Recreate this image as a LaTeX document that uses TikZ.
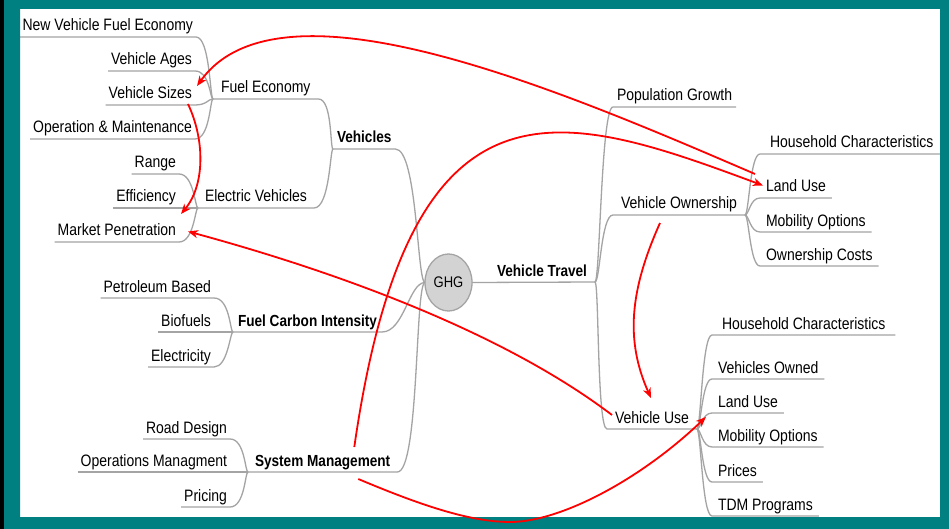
\documentclass[tikz,border=0pt]{standalone}
\usepackage{fontspec}
\setmainfont{Liberation Sans}
\usepackage{graphicx}
\usetikzlibrary{shapes.geometric,arrows.meta}
\definecolor{frame}{HTML}{008080}
\definecolor{lg}{HTML}{A4A4A4}
\definecolor{ghgf}{HTML}{D3D3D3}
\newcommand\vstr[1]{\scalebox{1}[1.18]{#1}}
\begin{document}
\begin{tikzpicture}[x=1pt,y=-1pt,
  base/.style={outer sep=0pt, inner ysep=2.5pt, text height=12.5pt, text depth=3.5pt, font=\fontsize{14}{16}\selectfont},
  lf/.style={base, anchor=south east, inner xsep=3pt},
  lp/.style={base, anchor=south west},
  rl/.style={base, anchor=south west, inner xsep=6pt},
  bd/.style={font=\fontsize{13.6}{16}\selectfont\bfseries},
  br/.style={draw=lg, line width=1.3pt},
  ar/.style={draw=red, line width=1.8pt, -{Stealth[length=10pt,width=8pt,inset=3pt]}},
]
\useasboundingbox (0,0) rectangle (949,529);
\fill[frame] (0,0) rectangle (949,529);
\fill[black] (0,0) rectangle (4,529);
\fill[white] (20,9) rectangle (940,517);

% ---- left leaves
\node[lf] (nvfe) at (196,37) {\vstr{New Vehicle Fuel Economy}};
\node[lf] (vages) at (195,71) {\vstr{Vehicle Ages}};
\node[lf] (vsizes) at (195,105) {\vstr{Vehicle Sizes}};
\node[lf] (om) at (195,139) {\vstr{Operation \& Maintenance}};
\node[lf] (range) at (179,174) {\vstr{Range}};
\node[lf] (eff) at (179,208) {\vstr{Efficiency}};
\node[lf] (mpen) at (179,242) {\vstr{Market Penetration}};
\node[lf] (petro) at (214,298) {\vstr{Petroleum Based}};
\node[lf] (bio) at (214,332) {\vstr{Biofuels}};
\node[lf] (elec) at (214,367) {\vstr{Electricity}};
\node[lf] (road) at (230,439) {\vstr{Road Design}};
\node[lf] (ops) at (230,472) {\vstr{Operations Managment}};
\node[lf] (pricing) at (230,507) {\vstr{Pricing}};

% ---- left parents
\node[lp, inner xsep=8pt] (fe) at (213,99) {\vstr{Fuel Economy}};
\node[lp, inner xsep=7pt] (ev) at (198,208) {\vstr{Electric Vehicles}};
\node[lp, bd, inner xsep=4pt] (veh) at (333,149) {\vstr{Vehicles}};
\node[lp, bd, inner xsep=5pt] (fci) at (233,332) {\vstr{Fuel Carbon Intensity}};
\node[lp, bd, inner xsep=7pt] (sm) at (248,472) {\vstr{System Management}};

% ---- centre
\node[ellipse, draw=lg, line width=1.3pt, fill=ghgf, minimum width=47pt, minimum height=57pt,
      inner sep=0pt, outer sep=0pt, font=\fontsize{13}{15}\selectfont] (ghg) at (448.5,282.5) {\vstr{GHG}};

% ---- right side
\node[base, bd, anchor=south east, inner xsep=8pt] (vt) at (595,282) {\vstr{Vehicle Travel}};
\node[base, anchor=south west, inner xsep=4pt] (pg) at (613,107) {\vstr{Population Growth}};
\node[base, anchor=south west, inner xsep=8pt] (vo) at (613,215) {\vstr{Vehicle Ownership}};
\node[base, anchor=south west, inner xsep=8pt] (vu) at (607,429) {\vstr{Vehicle Use}};

\node[rl, inner xsep=10pt] (hc1) at (760,154) {\vstr{Household Characteristics}};
\node[rl] (lu1) at (760,198) {\vstr{Land Use}};
\node[rl] (mo1) at (760,232) {\vstr{Mobility Options}};
\node[rl] (oc) at (760,266) {\vstr{Ownership Costs}};

\node[rl, inner xsep=10pt] (hc2) at (712,335) {\vstr{Household Characteristics}};
\node[rl] (vown) at (712,379) {\vstr{Vehicles Owned}};
\node[rl] (lu2) at (712,413) {\vstr{Land Use}};
\node[rl] (mo2) at (712,447) {\vstr{Mobility Options}};
\node[rl] (prices) at (712,482) {\vstr{Prices}};
\node[rl] (tdm) at (712,516) {\vstr{TDM Programs}};

% ---- gray branches, left
\draw[br] (nvfe.south west) -- (nvfe.south east) .. controls +(14,0) and +(-3,0) .. (fe.south west);
\draw[br] (vages.south west) -- (vages.south east) .. controls +(15,0) and +(-3,0) .. (fe.south west);
\draw[br] (vsizes.south west) -- (vsizes.south east) .. controls +(12,0) and +(-5,0) .. (fe.south west);
\draw[br] (om.south west) -- (om.south east) .. controls +(15,0) and +(-3,0) .. (fe.south west);
\draw[br] (fe.south west) -- (fe.south east) .. controls +(14,0) and +(-3,0) .. (veh.south west);

\draw[br] (range.south west) -- (range.south east) .. controls +(15,0) and +(-3,0) .. (ev.south west);
\draw[br] (eff.south west) -- (eff.south east) -- (ev.south west);
\draw[br] (mpen.south west) -- (mpen.south east) .. controls +(15,0) and +(-3,0) .. (ev.south west);
\draw[br] (ev.south west) -- (ev.south east) .. controls +(16,0) and +(-3,0) .. (veh.south west);

\draw[br] (veh.south west) -- (veh.south east) .. controls +(22,0) and +(-8,0) .. (ghg.west);

\draw[br] (petro.south west) -- (petro.south east) .. controls +(16,0) and +(-3,0) .. (fci.south west);
\draw[br] (bio.south west) -- (bio.south east) -- (fci.south west);
\draw[br] (elec.south west) -- (elec.south east) .. controls +(14,0) and +(-3,0) .. (fci.south west);
\draw[br] (fci.south west) -- (fci.south east) .. controls +(22,0) and +(-16,0) .. (ghg.west);

\draw[br] (road.south west) -- (road.south east) .. controls +(15,0) and +(-3,0) .. (sm.south west);
\draw[br] (ops.south west) -- (ops.south east) -- (sm.south west);
\draw[br] (pricing.south west) -- (pricing.south east) .. controls +(15,0) and +(-3,0) .. (sm.south west);
\draw[br] (sm.south west) -- (sm.south east) .. controls +(22,0) and +(-10,0) .. (ghg.west);

% ---- gray branches, right
\draw[br] (ghg.east) -- (vt.south east);
\draw[br] (vt.south east) .. controls +(5,0) and +(-12,0) .. (pg.south west) -- (pg.south east);
\draw[br] (vt.south east) .. controls +(5,0) and +(-12,0) .. (vo.south west) -- (vo.south east);
\draw[br] (vt.south east) .. controls +(4,0) and +(-10,0) .. (vu.south west) -- (vu.south east);

\foreach \n in {hc1,lu1,mo1,oc}
  \draw[br] (vo.south east) .. controls +(4,0) and +(-10,0) .. (\n.south west) -- (\n.south east);
\foreach \n in {hc2,vown,lu2,mo2,prices,tdm}
  \draw[br] (vu.south east) .. controls +(4,0) and +(-10,0) .. (\n.south west) -- (\n.south east);

% ---- frame overlay
\fill[frame, even odd rule] (4,0) rectangle (949,529) (20,9) rectangle (940,517);

% ---- red arrows
\coordinate (a6m) at (510,522);
\draw[ar] ([shift={(-5,-3)}]lu1.north west) .. controls (560,90) and (280,-30) .. ([shift={(2,2)}]vsizes.north east);
\draw[ar] ([shift={(-43,-4)}]sm.north east) .. controls (410,60) and (560,110) .. ([shift={(3,-2)}]lu1.west);
\draw[ar] ([shift={(-7,-1)}]vsizes.south east) .. controls +(17,36) and +(24,-29) .. ([shift={(2,-7)}]mpen.north east);
\draw[ar] ([shift={(5,-3.5)}]vu.west) .. controls (500,330) and (330,270) .. ([shift={(9,0)}]mpen.east);
\draw[ar] ([shift={(-19,8)}]vo.south) .. controls (630,290) and (625,340) .. ([shift={(-1,-10)}]vu.north);
\draw[ar] ([shift={(-39,7)}]sm.south east) .. controls (420,505) and (470,522) .. (a6m) .. controls (560,522) and (640,480) .. ([shift={(9,-12)}]vu.south east);
\end{tikzpicture}
\end{document}
